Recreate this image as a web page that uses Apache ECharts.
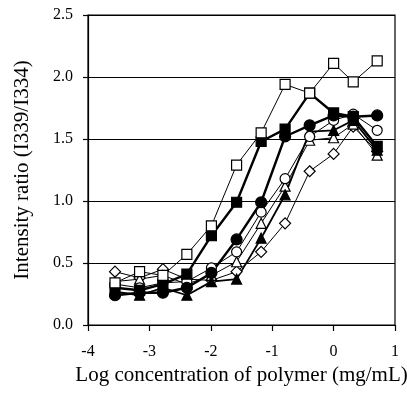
<!DOCTYPE html>
<html>
<head>
<meta charset="utf-8">
<script src="https://cdn.jsdelivr.net/npm/echarts@6/dist/echarts.min.js"></script>
<style>
  html, body { margin: 0; padding: 0; background: #fff; }
  #chart { width: 407px; height: 394px; }
</style>
</head>
<body>
<div id="chart"></div>
<script>
// log concentration (mg/mL)
const logConc = [-3.56, -3.16, -2.78, -2.39, -1.99, -1.58, -1.18, -0.79, -0.39, 0.0, 0.32, 0.71];

const openSquare   = [0.34, 0.43, 0.40, 0.57, 0.80, 1.29, 1.55, 1.94, 1.87, 2.11, 1.96, 2.13];
const filledSquare = [0.30, 0.28, 0.33, 0.41, 0.72, 0.99, 1.48, 1.58, 1.87, 1.71, 1.68, 1.44];
const filledCircle = [0.24, 0.26, 0.26, 0.30, 0.42, 0.69, 0.99, 1.52, 1.61, 1.69, 1.68, 1.69];
const openCircle   = [0.33, 0.30, 0.34, 0.35, 0.46, 0.59, 0.91, 1.18, 1.52, 1.65, 1.70, 1.57];
const openTri      = [0.35, 0.37, 0.40, 0.33, 0.40, 0.51, 0.82, 1.12, 1.49, 1.51, 1.62, 1.37];
const filledTri    = [0.27, 0.24, 0.30, 0.24, 0.35, 0.37, 0.70, 1.05, 1.56, 1.57, 1.65, 1.41];
const openDiamond  = [0.43, 0.38, 0.45, 0.37, 0.36, 0.43, 0.59, 0.82, 1.24, 1.38, 1.60, 1.40];

const FONT = 'Liberation Serif';

function pts(ys) {
  return logConc.map((x, i) => [x, ys[i]]);
}

function mk(name, ys, symbol, size, filled, lw) {
  return {
    name: name,
    type: 'line',
    data: pts(ys),
    symbol: symbol,
    symbolSize: size,
    showSymbol: true,
    lineStyle: { color: '#000', width: lw },
    itemStyle: { color: filled ? '#000' : '#fff', borderColor: '#000', borderWidth: 1.2, opacity: 1 },
    emphasis: { disabled: true },
    animation: false
  };
}

const chart = echarts.init(document.getElementById('chart'), null, { renderer: 'canvas' });

chart.setOption({
  animation: false,
  grid: {
    left: 88, right: 12, top: 15, bottom: 69,
    outerBoundsMode: 'none',
    containLabel: false,
    show: true, borderColor: '#000', borderWidth: 1.2, backgroundColor: 'transparent'
  },
  xAxis: {
    type: 'value',
    min: -4, max: 1, interval: 1,
    name: 'Log concentration of polymer (mg/mL)',
    nameLocation: 'middle',
    nameGap: 35,
    nameTextStyle: { fontFamily: FONT, fontSize: 21, color: '#000' },
    axisLine: { show: true, onZero: false, lineStyle: { color: '#000', width: 1.2 } },
    axisTick: { show: true, length: 6, lineStyle: { color: '#000', width: 1.2 } },
    axisLabel: { fontFamily: FONT, fontSize: 16, color: '#000', margin: 19 },
    splitLine: { show: false }
  },
  yAxis: {
    type: 'value',
    min: 0, max: 2.5, interval: 0.5,
    name: 'Intensity ratio (I339/I334)',
    nameLocation: 'middle',
    nameGap: 55,
    nameTextStyle: { fontFamily: FONT, fontSize: 21, color: '#000' },
    axisLine: { show: true, onZero: false, lineStyle: { color: '#000', width: 1.2 } },
    axisTick: { show: true, length: 5, lineStyle: { color: '#000', width: 1.2 } },
    axisLabel: { fontFamily: FONT, fontSize: 16, color: '#000', margin: 15, formatter: v => v.toFixed(1) },
    splitLine: { show: true, lineStyle: { color: '#000', width: 1.2 } }
  },
  series: [
    mk('open diamond', openDiamond, 'diamond', 11, false, 1),
    mk('open triangle', openTri, 'triangle', 10, false, 1),
    mk('filled triangle', filledTri, 'triangle', 10, true, 1.8),
    mk('open circle', openCircle, 'circle', 10, false, 1),
    mk('filled circle', filledCircle, 'circle', 11, true, 2.4),
    mk('filled square', filledSquare, 'rect', 10, true, 2.4),
    mk('open square', openSquare, 'rect', 10, false, 1)
  ]
});
</script>
</body>
</html>
